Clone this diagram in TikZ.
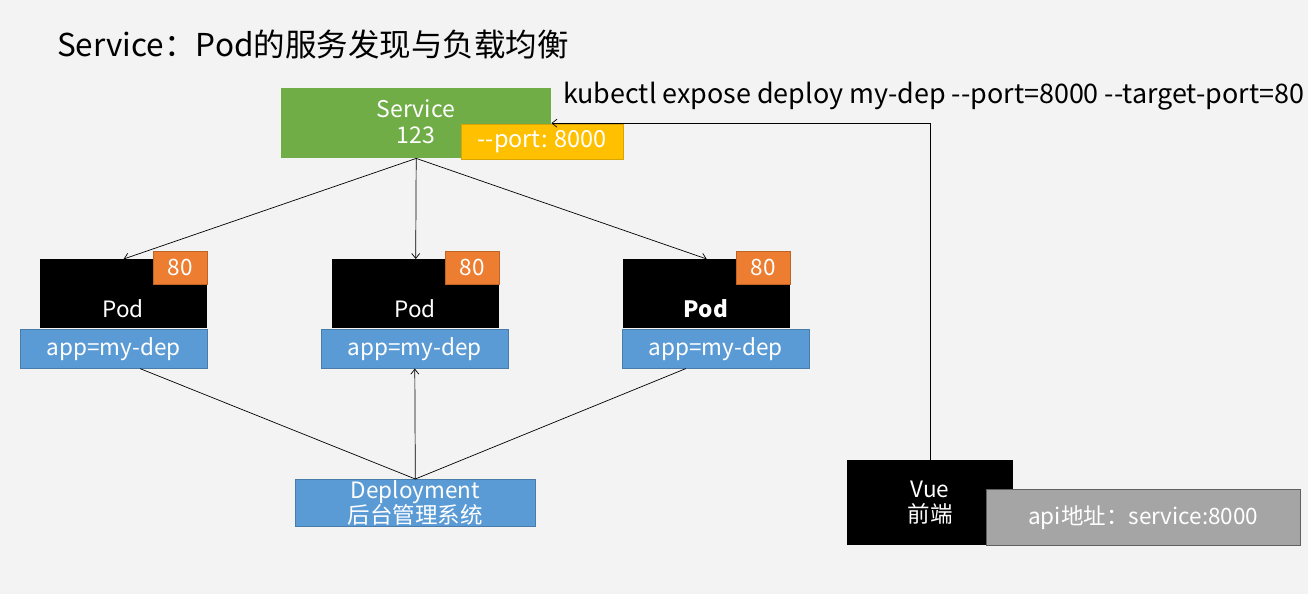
\documentclass[tikz,border=0pt]{standalone}
\usepackage{fontspec}
\setmainfont{Noto Sans CJK SC}
\usetikzlibrary{calc,arrows.meta}
\definecolor{bg}{HTML}{F3F3F3}
\definecolor{svcgreen}{HTML}{70AD47}
\definecolor{portyellow}{HTML}{FFC000}
\definecolor{portorange}{HTML}{ED7D31}
\definecolor{labblue}{HTML}{5B9BD5}
\definecolor{apigray}{HTML}{A5A5A5}
\tikzset{
  box/.style={anchor=north west, inner sep=0pt, align=center, text=white, font=\fontsize{22.5}{25}\selectfont},
  podbox/.style={box, fill=black, minimum width=167pt, minimum height=69pt},
  portbox/.style={box, fill=portorange, draw=portorange!80!black, line width=0.6pt, minimum width=54pt, minimum height=33pt},
  labbox/.style={box, fill=labblue, draw=labblue!80!black, line width=0.6pt, minimum width=187pt, minimum height=39pt},
  conn/.style={draw=black, line width=0.7pt},
  arr/.style={conn, -{Straight Barb[length=5pt,width=8pt]}},
}
\begin{document}
\begin{tikzpicture}[x=1pt,y=-1pt]
\fill[bg] (0,0) rectangle (1308,594);
\useasboundingbox (0,0) rectangle (1308,594);

\node[anchor=west, inner sep=0pt, font=\fontsize{31.5}{36}\selectfont] (title) at (57,45) {Service：Pod的服务发现与负载均衡};

% service
\node[box, fill=svcgreen, minimum width=270pt, minimum height=70pt] (svc) at (281,88) {};
\node[box, anchor=center, font=\fontsize{23}{26}\selectfont] (svctext) at (416,122) {Service\\123};
\node[box, fill=portyellow, draw=portyellow!85!black, line width=0.6pt, minimum width=162pt, minimum height=35pt, font=\fontsize{23.5}{26}\selectfont] (port) at (461,124) {-{}-port: 8000};
\node[anchor=west, inner sep=0pt, font=\fontsize{26.9}{30}\selectfont] (cmd) at (563,96) {kubectl expose deploy my-dep -{}-port=8000 -{}-target-port=80};

% pods
\node[podbox] (pod1) at (40,259) {};
\node[box, anchor=center] (pt1) at (123,309) {Pod};
\node[portbox] (p1) at (153,251) {80};
\node[labbox] (lab1) at (20,329) {app=my-dep};

\node[podbox] (pod2) at (332,259) {};
\node[box, anchor=center] (pt2) at (415,309) {Pod};
\node[portbox] (p2) at (445,251) {80};
\node[labbox] (lab2) at (321,329) {app=my-dep};

\node[podbox] (pod3) at (623,259) {};
\node[box, anchor=center, font=\fontsize{22.5}{25}\selectfont\bfseries] (pt3) at (706,309) {Pod};
\node[portbox] (p3) at (736,251) {80};
\node[labbox] (lab3) at (622,329) {app=my-dep};

% deployment
\node[box, fill=labblue, draw=labblue!80!black, line width=0.6pt, minimum width=240pt, minimum height=47pt, font=\fontsize{22.5}{25}\selectfont] (dep) at (295,479) {Deployment\\后台管理系统};

% vue
\node[box, fill=black, minimum width=166pt, minimum height=85pt] (vue) at (847,460) {};
\node[box, anchor=center] (vuetext) at (930,503) {Vue\\前端};
\node[box, fill=apigray, draw=gray!75!black, line width=0.6pt, minimum width=314pt, minimum height=56pt] (api) at (986,489) {api地址：service:8000};

% connectors
\draw[arr] (svc.south) -- (pod1.north);
\draw[arr] (svc.south) -- (pod2.north);
\draw[arr] (svc.south) -- (pod3.north);
\draw[conn] (dep.north) -- ($(lab1.south west)!0.64!(lab1.south east)$);
\draw[arr] (dep.north) -- (lab2.south);
\draw[conn] (dep.north) -- ($(lab3.south west)!0.34!(lab3.south east)$);
\draw[arr] (vue.north) |- (svc.east);
\end{tikzpicture}
\end{document}
